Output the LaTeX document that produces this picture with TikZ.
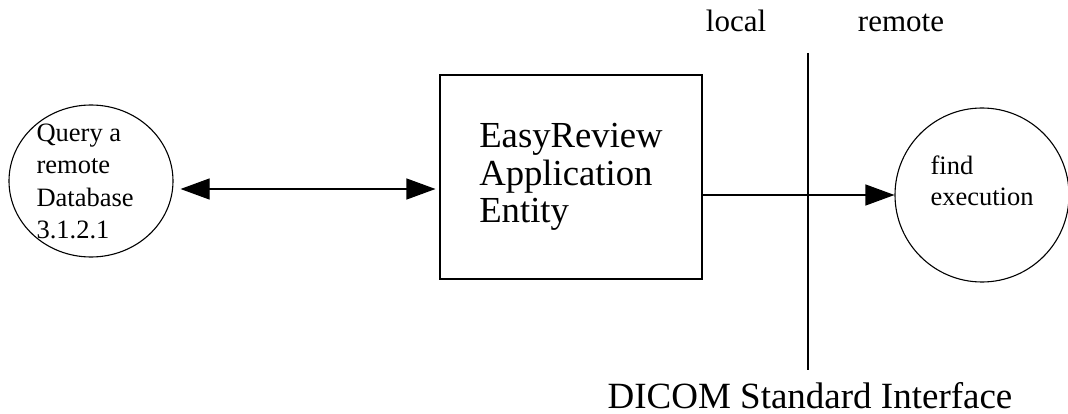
\documentclass[tikz,border=0pt]{standalone}
\usepackage{fontspec}
\setmainfont{Liberation Serif}
\usetikzlibrary{arrows.meta, positioning, shapes, calc}

\begin{document}
\begin{tikzpicture}[x=1pt, y=-1pt, line width=1.1pt,
    tip/.style={-{Triangle[length=29pt, width=21pt]}},
    twotip/.style={{Triangle[length=29pt, width=21pt]}-{Triangle[length=29pt, width=21pt]}},
    txt/.style={inner sep=0pt, align=left}]
    \useasboundingbox (0,0) rectangle (1068,414);

    \node (Q1) [ellipse, draw, minimum width=164pt, minimum height=152pt] at (91,181) {};
    \node (Q2) [txt, anchor=north west, font=\fontsize{26.5}{32.5}\selectfont] at (36,123) {Query a\\remote\\Database\\3.1.2.1};

    \node (E1) [rectangle, draw, minimum width=262pt, minimum height=204pt, align=left, font=\fontsize{36.7}{37.5}\selectfont] at (571,177) {EasyReview\\Application\\Entity};

    \node (F1) [circle, draw, minimum size=174pt] at (982,195) {};
    \node (F2) [txt, anchor=north west, font=\fontsize{26.5}{31}\selectfont] at (930,155) {find\\execution};

    \coordinate (V1) at (808,53);
    \coordinate (V2) at (808,370);
    \draw (V1) -- (V2);

    \node (L1) [anchor=base, font=\fontsize{31}{31}\selectfont] at (736,32) {local};
    \node (R1) [anchor=base, font=\fontsize{31}{31}\selectfont] at (901,32) {remote};
    \node (D1) [anchor=base, font=\fontsize{37}{37}\selectfont] at (810,408) {DICOM Standard Interface};

    \draw[twotip] ($(Q1.east)+(7,8)$) -- ($(E1.west)+(-4,12)$);
    \draw[tip] (E1.east |- F1.west) -- (F1.west);

\end{tikzpicture}
\end{document}
